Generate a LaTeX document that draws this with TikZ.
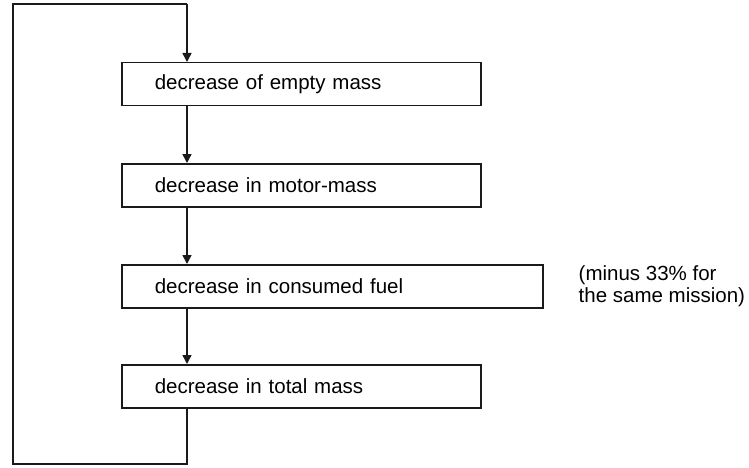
\documentclass[tikz,border=0pt]{standalone}
\usepackage{fontspec}
\setmainfont{Liberation Sans}
\usetikzlibrary{positioning,arrows.meta}
\definecolor{ink}{HTML}{1A1A1A}
\tikzset{
  stage/.style={draw=ink, line width=1.5pt, rectangle, minimum height=43pt,
    inner xsep=33pt, text width=293pt, align=left, anchor=north west,
    font=\fontsize{20.5}{22}\selectfont},
  wide/.style={text width=355pt},
  link/.style={draw=ink, line width=1.5pt, -{Triangle[length=9pt,width=9pt]}},
  back/.style={draw=ink, line width=1.5pt, line join=miter},
  note/.style={align=left, inner sep=0pt, font=\fontsize{20.5}{22}\selectfont},
}
\begin{document}
\begin{tikzpicture}[x=1pt,y=-1pt]
  \useasboundingbox (0,0) rectangle (749,468);
  \coordinate (sp) at (187,0);
  \node[stage] (empty) at (121,62) {decrease of empty mass};
  \node[stage] (motor) at (121,163) {decrease in motor-mass};
  \node[stage,wide] (fuel) at (121,264) {decrease in consumed fuel};
  \node[stage] (total) at (121,364) {decrease in total mass};
  \node[note, right=35pt of fuel] (saving) {(minus 33\% for\\the same mission)};
  % chain
  \draw[link] (empty.south -| sp) -- (motor.north -| sp);
  \draw[link] (motor.south -| sp) -- (fuel.north -| sp);
  \draw[link] (fuel.south -| sp) -- (total.north -| sp);
  % feedback loop
  \coordinate (lowR) at (187,464);
  \coordinate (lowL) at (13,464);
  \coordinate (topL) at (13,4);
  \coordinate (topR) at (187,4);
  \draw[back] (total.south -| sp) -- (lowR) -- (lowL) -- (topL) -- (topR);
  \draw[link] (topR) -- (empty.north -| sp);
\end{tikzpicture}
\end{document}
